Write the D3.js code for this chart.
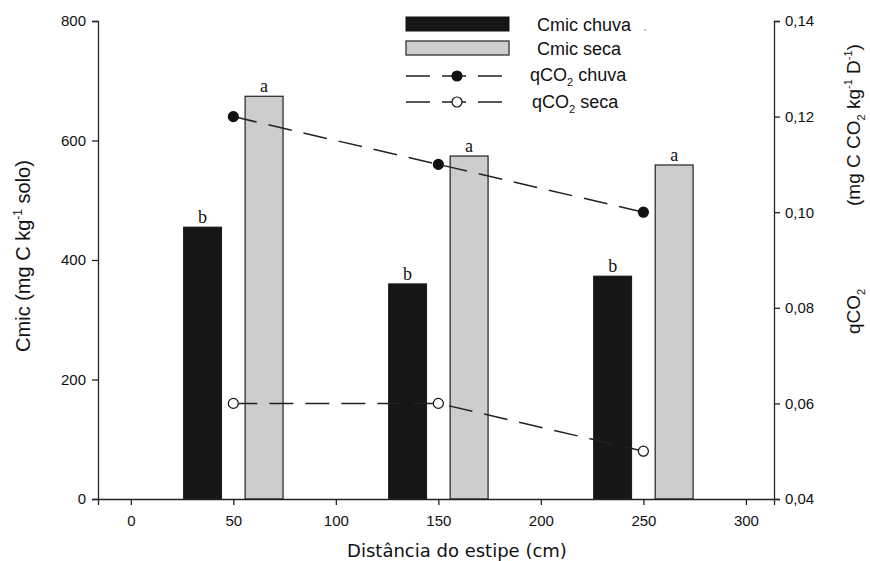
<!DOCTYPE html>
<html>
<head>
<meta charset="utf-8">
<script src="https://d3js.org/d3.v7.min.js"></script>
<style>
  body { margin: 0; background: #fff; }
  svg text { font-family: "Liberation Sans", Arial, sans-serif; fill: #111; }
  .axis path, .axis line { stroke: #222; stroke-width: 1.3; }
  .axis text { font-size: 15px; }
</style>
</head>
<body>
<div id="vis-container"></div>
<script>
// data
var distances = [50, 150, 250];
var cmicChuva = [455, 360, 373];
var cmicSeca = [674, 574, 559];
var qco2Chuva = [0.120, 0.110, 0.100];
var qco2Seca = [0.060, 0.060, 0.050];
var lettersChuva = ["b", "b", "b"];
var lettersSeca = ["a", "a", "a"];
var xTicks = [0, 50, 100, 150, 200, 250, 300];
var leftTicks = [0, 200, 400, 600, 800];
var rightTicks = [0.04, 0.06, 0.08, 0.10, 0.12, 0.14];

var width = 870, height = 561;
var margins = { top: 21, right: 96, bottom: 62, left: 98 };
var visWidth = width - margins.left - margins.right;   // 676
var visHeight = height - margins.top - margins.bottom;  // 478

var svg = d3.select("#vis-container").append("svg")
    .attr("width", width).attr("height", height);
var viewport = svg.append("g")
    .attr("transform", "translate(" + margins.left + "," + margins.top + ")");

// scales
var x = d3.scaleLinear().domain([-16, 313.7]).range([0, visWidth]);
var yLeft = d3.scaleLinear().domain([0, 800]).range([visHeight, 0]);
var yRight = d3.scaleLinear().domain([0.04, 0.14]).range([visHeight, 0]);
var barW = x(18.5) - x(0);
var offset = 15; // bars sit 15 cm left/right of the distance

// bars
var chuvaData = distances.map(function (d, i) { return { x: d - offset, v: cmicChuva[i], l: lettersChuva[i] }; });
var secaData = distances.map(function (d, i) { return { x: d + offset, v: cmicSeca[i], l: lettersSeca[i] }; });

viewport.selectAll(".bar-chuva").data(chuvaData).enter().append("rect")
    .attr("class", "bar-chuva")
    .attr("x", function (d) { return x(d.x) - barW / 2; })
    .attr("y", function (d) { return yLeft(d.v); })
    .attr("width", barW)
    .attr("height", function (d) { return visHeight - yLeft(d.v); })
    .attr("fill", "#161616").attr("stroke", "#161616");

viewport.selectAll(".bar-seca").data(secaData).enter().append("rect")
    .attr("class", "bar-seca")
    .attr("x", function (d) { return x(d.x) - barW / 2; })
    .attr("y", function (d) { return yLeft(d.v); })
    .attr("width", barW)
    .attr("height", function (d) { return visHeight - yLeft(d.v); })
    .attr("fill", "#cdcdcd").attr("stroke", "#222").attr("stroke-width", 1.2);

// letters above bars
viewport.selectAll(".lbl").data(chuvaData.concat(secaData)).enter().append("text")
    .attr("x", function (d) { return x(d.x); })
    .attr("y", function (d) { return yLeft(d.v) - 4; })
    .attr("text-anchor", "middle")
    .style("font-family", "'Liberation Serif', 'Times New Roman', serif")
    .style("font-size", "18px")
    .text(function (d) { return d.l; });

// qCO2 lines
var pts = function (arr) { return distances.map(function (d, i) { return { x: d, v: arr[i] }; }); };
var line = d3.line()
    .x(function (d) { return x(d.x); })
    .y(function (d) { return yRight(d.v); });

[[qco2Chuva, "#111"], [qco2Seca, "#fff"]].forEach(function (s) {
    viewport.append("path").datum(pts(s[0]))
        .attr("d", line)
        .attr("fill", "none").attr("stroke", "#222").attr("stroke-width", 1.5)
        .attr("stroke-dasharray", "24,12");
    viewport.selectAll(null).data(pts(s[0])).enter().append("circle")
        .attr("cx", function (d) { return x(d.x); })
        .attr("cy", function (d) { return yRight(d.v); })
        .attr("r", 5)
        .attr("fill", s[1]).attr("stroke", "#111").attr("stroke-width", 1.2);
});

// axes
viewport.append("g").attr("class", "axis")
    .attr("transform", "translate(0," + visHeight + ")")
    .call(d3.axisBottom(x).tickValues(xTicks).tickSizeOuter(0).tickSize(6).tickPadding(10));
viewport.append("g").attr("class", "axis")
    .call(d3.axisLeft(yLeft).tickValues(leftTicks).tickSizeOuter(0).tickSize(6).tickPadding(6));
var fmt = function (v) { return d3.format(".2f")(v).replace(".", ","); };
viewport.append("g").attr("class", "axis")
    .attr("transform", "translate(" + visWidth + ",0)")
    .call(d3.axisRight(yRight).tickValues(rightTicks).tickFormat(fmt).tickSizeOuter(0).tickSize(6).tickPadding(5));

// axis titles
svg.append("text")
    .attr("x", 457).attr("y", 557)
    .attr("text-anchor", "middle")
    .style("font-family", "'DejaVu Sans', sans-serif").style("font-size", "18px")
    .text("Distância do estipe (cm)");

var lt = svg.append("text")
    .attr("transform", "translate(30,256) rotate(-90)")
    .attr("text-anchor", "middle")
    .style("font-size", "20px");
lt.append("tspan").text("Cmic (mg C kg");
lt.append("tspan").attr("dy", -8).style("font-size", "12px").text("-1");
lt.append("tspan").attr("dy", 8).text(" solo)");

var rt1 = svg.append("text")
    .attr("transform", "translate(860,334) rotate(-90)")
    .style("font-size", "19px");
rt1.append("tspan").text("qCO");
rt1.append("tspan").attr("dy", 5).style("font-size", "11px").text("2");

var rt = svg.append("text")
    .attr("transform", "translate(860,206) rotate(-90)")
    .style("font-size", "19px");
rt.append("tspan").text("(mg C CO");
rt.append("tspan").attr("dy", 5).style("font-size", "11px").text("2");
rt.append("tspan").attr("dy", -5).text(" kg");
rt.append("tspan").attr("dy", -8).style("font-size", "11px").text("-1");
rt.append("tspan").attr("dy", 8).text(" D");
rt.append("tspan").attr("dy", -8).style("font-size", "11px").text("-1");
rt.append("tspan").attr("dy", 8).text(")");

// legend
var legend = svg.append("g");
legend.append("rect").attr("x", 406).attr("y", 17).attr("width", 103).attr("height", 14)
    .attr("fill", "#161616").attr("stroke", "#161616");
legend.append("rect").attr("x", 406).attr("y", 41).attr("width", 103).attr("height", 14)
    .attr("fill", "#cdcdcd").attr("stroke", "#222").attr("stroke-width", 1.2);
[[76, "#111"], [102, "#fff"]].forEach(function (r) {
    legend.append("line").attr("x1", 406).attr("x2", 509).attr("y1", r[0]).attr("y2", r[0])
        .attr("stroke", "#222").attr("stroke-width", 1.5).attr("stroke-dasharray", "24,12");
    legend.append("circle").attr("cx", 457).attr("cy", r[0]).attr("r", 5)
        .attr("fill", r[1]).attr("stroke", "#111").attr("stroke-width", 1.2);
});
var legText = function (xp, yp, a, sub, b) {
    var t = legend.append("text").attr("x", xp).attr("y", yp).style("font-size", "18px");
    t.append("tspan").text(a);
    if (sub) {
        t.append("tspan").attr("dy", 5).style("font-size", "11px").text(sub);
        t.append("tspan").attr("dy", -5).text(b);
    }
};
legText(537, 31, "Cmic chuva");
legText(537, 55, "Cmic seca");
legText(530, 81, "qCO", "2", " chuva");
legText(532, 108, "qCO", "2", " seca");
legend.append("text").attr("x", 643).attr("y", 31).style("font-size", "15px")
    .style("fill", "#6aa6d8").text(".");
</script>
</body>
</html>
